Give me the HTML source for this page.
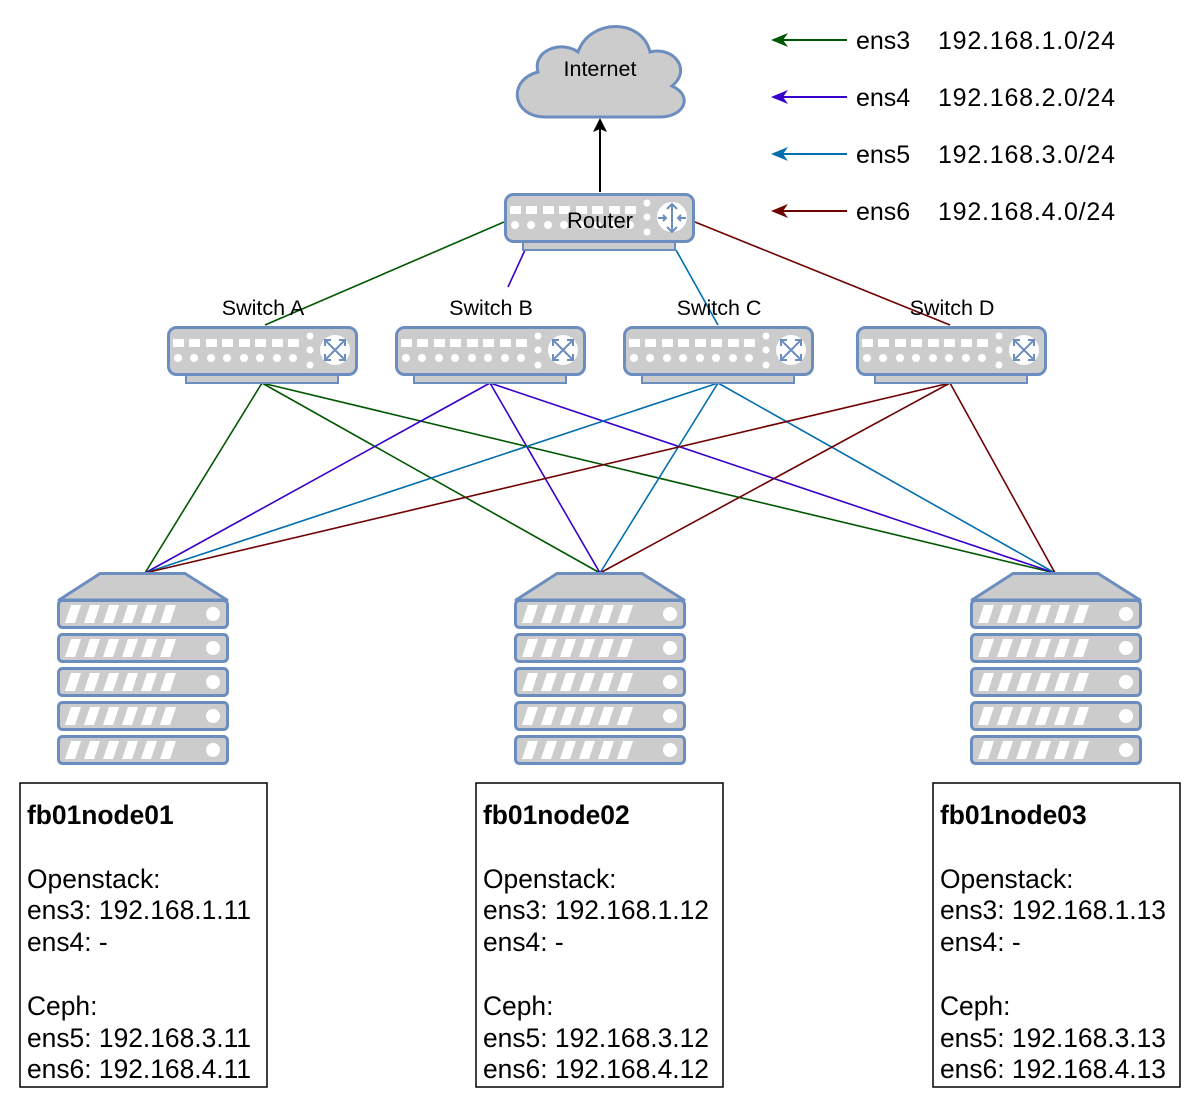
<!DOCTYPE html>
<html><head><meta charset="utf-8"><style>
html,body{margin:0;padding:0;background:#fff;}
svg{display:block;font-family:"Liberation Sans",Arial,sans-serif;}
</style></head><body>
<svg width="1200" height="1107" viewBox="0 0 1200 1107" xmlns="http://www.w3.org/2000/svg">
<defs>
<g id="box">
  <rect x="19" y="49" width="152" height="8" fill="#ccc" stroke="#6c8ebf" stroke-width="2"/>
  <rect x="1.5" y="1.5" width="188" height="47" rx="8" fill="#ccc" stroke="#6c8ebf" stroke-width="3"/>
  <g fill="#fff">
    <rect x="6" y="13" width="11" height="8"/><rect x="22" y="13" width="11" height="8"/><rect x="39" y="13" width="11" height="8"/><rect x="55" y="13" width="11" height="8"/><rect x="72" y="13" width="11" height="8"/><rect x="88" y="13" width="11" height="8"/><rect x="105" y="13" width="11" height="8"/><rect x="121" y="13" width="11" height="8"/>
    <circle cx="11" cy="32" r="4"/><circle cx="27" cy="32" r="4"/><circle cx="44" cy="32" r="4"/><circle cx="60" cy="32" r="4"/><circle cx="77" cy="32" r="4"/><circle cx="93" cy="32" r="4"/><circle cx="110" cy="32" r="4"/><circle cx="126" cy="32" r="4"/>
    <circle cx="143" cy="10" r="3.5"/><circle cx="143" cy="24" r="3.5"/><circle cx="143" cy="39" r="3.5"/>
    <circle cx="168" cy="24" r="15"/>
  </g>
</g>
<g id="sw">
  <use href="#box"/>
  <g stroke="#6c8ebf" stroke-width="2" fill="none">
    <path d="M158,14 L178,34 M178,14 L158,34"/>
    <path d="M158,20 V14 H164 M172,14 H178 V20 M178,28 V34 H172 M164,34 H158 V28"/>
  </g>
</g>
<g id="unit">
  <rect x="1.5" y="1.5" width="169" height="27" rx="4" fill="#ccc" stroke="#6c8ebf" stroke-width="3"/>
  <g fill="#fff">
    <polygon points="14,6 24,6 18,24 8,24"/><polygon points="33,6 43,6 37,24 27,24"/><polygon points="52,6 62,6 56,24 46,24"/><polygon points="71,6 81,6 75,24 65,24"/><polygon points="90,6 100,6 94,24 84,24"/><polygon points="109,6 119,6 113,24 103,24"/>
    <circle cx="156" cy="15" r="7"/>
  </g>
</g>
<g id="server">
  <polygon points="43,1.5 128,1.5 170,28 2,28" fill="#ccc" stroke="#6c8ebf" stroke-width="3" stroke-linejoin="round"/>
  <use href="#unit" y="27"/><use href="#unit" y="61"/><use href="#unit" y="95"/><use href="#unit" y="129"/><use href="#unit" y="163"/>
</g>
</defs>

<!-- connections -->
<g stroke-width="1.6" fill="none">
  <g stroke="#005700">
    <line x1="504" y1="222" x2="265" y2="325"/>
    <line x1="262" y1="383" x2="145" y2="573"/><line x1="262" y1="383" x2="600" y2="573"/><line x1="262" y1="383" x2="1055" y2="573"/>
  </g>
  <g stroke="#3700cc">
    <line x1="525" y1="250" x2="508" y2="287"/>
    <line x1="490" y1="383" x2="145" y2="573"/><line x1="490" y1="383" x2="600" y2="573"/><line x1="490" y1="383" x2="1055" y2="573"/>
  </g>
  <g stroke="#006eaf">
    <line x1="676" y1="250" x2="718" y2="325"/>
    <line x1="718" y1="383" x2="145" y2="573"/><line x1="718" y1="383" x2="600" y2="573"/><line x1="718" y1="383" x2="1055" y2="573"/>
  </g>
  <g stroke="#6f0000">
    <line x1="695" y1="222" x2="950" y2="325"/>
    <line x1="950" y1="383" x2="145" y2="573"/><line x1="950" y1="383" x2="600" y2="573"/><line x1="950" y1="383" x2="1055" y2="573"/>
  </g>
</g>

<!-- router to internet -->
<line x1="600" y1="192" x2="600" y2="128" stroke="#000" stroke-width="2"/>
<polygon points="600,118 607,132 600,129 593,132" fill="#000"/>

<!-- cloud -->
<path d="M545,117 C512,117 507,80 538,72 C532,50 562,40 578,52 C590,18 642,18 650,52 C674,46 692,70 672,86 C694,96 684,117 660,117 Z" fill="#ccc" stroke="#6c8ebf" stroke-width="3"/>
<text x="600" y="76" font-size="21.5" text-anchor="middle">Internet</text>

<!-- router -->
<use href="#box" x="504" y="193"/>
<g stroke="#6c8ebf" stroke-width="2" fill="none">
  <path d="M672,204 V232 M667,209 L672,204 L677,209 M667,227 L672,232 L677,227"/>
  <path d="M658,218 H666 M663,215 L666,218 L663,221 M686,218 H678 M681,215 L678,218 L681,221"/>
</g>
<text x="600" y="228" font-size="22" text-anchor="middle">Router</text>

<!-- switches -->
<use href="#sw" x="167" y="326"/>
<use href="#sw" x="395" y="326"/>
<use href="#sw" x="623" y="326"/>
<use href="#sw" x="856" y="326"/>
<g font-size="21.5" text-anchor="middle">
<text x="263" y="315">Switch A</text>
<text x="491" y="315">Switch B</text>
<text x="719" y="315">Switch C</text>
<text x="952" y="315">Switch D</text>
</g>

<!-- servers -->
<use href="#server" x="57" y="572"/>
<use href="#server" x="514" y="572"/>
<use href="#server" x="970" y="572"/>

<!-- legend -->
<g stroke-width="2">
  <line x1="847" y1="40" x2="780" y2="40" stroke="#005700"/>
  <polygon points="771,40 788,33 783,40 788,47" fill="#005700"/>
  <line x1="847" y1="97" x2="780" y2="97" stroke="#3700cc"/>
  <polygon points="771,97 788,90 783,97 788,104" fill="#3700cc"/>
  <line x1="847" y1="154" x2="780" y2="154" stroke="#006eaf"/>
  <polygon points="771,154 788,147 783,154 788,161" fill="#006eaf"/>
  <line x1="847" y1="211" x2="780" y2="211" stroke="#6f0000"/>
  <polygon points="771,211 788,204 783,211 788,218" fill="#6f0000"/>
</g>
<g font-size="25">
<text x="856" y="49">ens3</text><text x="938" y="49" textLength="177">192.168.1.0/24</text>
<text x="856" y="106">ens4</text><text x="938" y="106" textLength="177">192.168.2.0/24</text>
<text x="856" y="163">ens5</text><text x="938" y="163" textLength="177">192.168.3.0/24</text>
<text x="856" y="220">ens6</text><text x="938" y="220" textLength="177">192.168.4.0/24</text>
</g>

<!-- info boxes -->
<g fill="#fff" stroke="#000" stroke-width="1.5">
<rect x="20" y="783" width="247" height="304"/>
<rect x="476" y="783" width="247" height="304"/>
<rect x="933" y="783" width="247" height="304"/>
</g>
<g font-size="26.4">
<text x="27" y="824" font-weight="bold">fb01node01</text>
<text x="27" y="888">Openstack:</text>
<text x="27" y="919">ens3: 192.168.1.11</text>
<text x="27" y="951">ens4: -</text>
<text x="27" y="1015">Ceph:</text>
<text x="27" y="1047">ens5: 192.168.3.11</text>
<text x="27" y="1078">ens6: 192.168.4.11</text>

<text x="483" y="824" font-weight="bold">fb01node02</text>
<text x="483" y="888">Openstack:</text>
<text x="483" y="919">ens3: 192.168.1.12</text>
<text x="483" y="951">ens4: -</text>
<text x="483" y="1015">Ceph:</text>
<text x="483" y="1047">ens5: 192.168.3.12</text>
<text x="483" y="1078">ens6: 192.168.4.12</text>

<text x="940" y="824" font-weight="bold">fb01node03</text>
<text x="940" y="888">Openstack:</text>
<text x="940" y="919">ens3: 192.168.1.13</text>
<text x="940" y="951">ens4: -</text>
<text x="940" y="1015">Ceph:</text>
<text x="940" y="1047">ens5: 192.168.3.13</text>
<text x="940" y="1078">ens6: 192.168.4.13</text>
</g>
</svg>
</body></html>
